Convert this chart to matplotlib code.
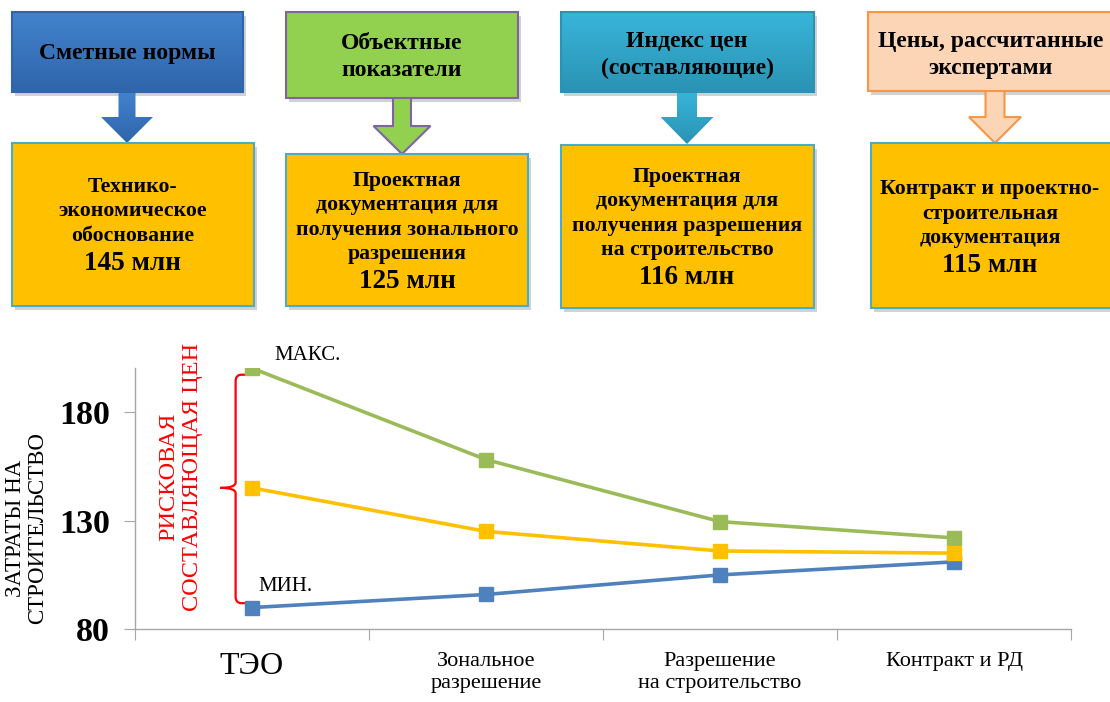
import numpy as np
import matplotlib
matplotlib.use('Agg')
from matplotlib import pyplot as plt
from matplotlib.patches import Rectangle, Polygon, PathPatch
from matplotlib.path import Path

plt.rcParams['font.family'] = ['Liberation Serif', 'DejaVu Serif']

# данные графика
stages = ['ТЭО', 'Зональное\nразрешение', 'Разрешение\nна строительство', 'Контракт и РД']
cost_max = [200, 158, 129.5, 122]
cost_exp = [145, 125, 116, 115]
cost_min = [90, 96, 105, 111]
y_ticks = [80, 130, 180]

# тексты блоков
top_titles = ['Сметные нормы', 'Объектные\nпоказатели', 'Индекс цен\n(составляющие)',
              'Цены, рассчитанные\nэкспертами']
doc_titles = ['Технико-\nэкономическое\nобоснование',
              'Проектная\nдокументация для\nполучения зонального\nразрешения',
              'Проектная\nдокументация для\nполучения разрешения\nна строительство',
              'Контракт и проектно-\nстроительная\nдокументация']
doc_costs = ['145 млн', '125 млн', '116 млн', '115 млн']

fig = plt.figure(figsize=(11.1, 7.02), dpi=100)
bg = fig.add_axes([0, 0, 1, 1])
bg.set_xlim(0, 1110)
bg.set_ylim(702, 0)
bg.axis('off')


def gradient_fill(ax, patch, c_top, c_bot):
    ax.add_patch(patch)
    x0, y0, x1, y1 = patch.get_extents().transformed(ax.transData.inverted()).extents
    c1 = np.array(matplotlib.colors.to_rgb(c_top))
    c2 = np.array(matplotlib.colors.to_rgb(c_bot))
    t = np.linspace(0, 1, 64)[:, None]
    img = (c1 * (1 - t) + c2 * t)[:, None, :]
    im = ax.imshow(img, extent=[min(x0, x1), max(x0, x1), max(y0, y1), min(y0, y1)],
                   aspect='auto', zorder=patch.get_zorder() - 0.1, interpolation='bilinear')
    im.set_clip_path(patch)


def shadow(ax, x0, y0, x1, y1):
    ax.add_patch(Rectangle((x0 + 3, y0 + 4), x1 - x0, y1 - y0, fc='#7f7f7f', ec='none',
                           alpha=0.35, zorder=1))


def arrow_poly(cx, y0, yh, yt, ws, wh):
    return [(cx - ws, y0), (cx + ws, y0), (cx + ws, yh), (cx + wh, yh), (cx, yt),
            (cx - wh, yh), (cx - ws, yh)]


# верхние блоки: (x0, y0, x1, y1), цвета
top_boxes = [(12, 12, 243, 92), (286, 12, 518, 98), (561, 12, 814, 92), (868, 12, 1118, 91)]
top_cols = [('#4283CE', '#2F65AA', '#2F65AA'), ('#92D050', '#92D050', '#8064A2'),
            ('#38B5D9', '#2A93B4', '#2A93B4'), ('#FBD5B5', '#FBD5B5', '#F79646')]
top_text = [(127, 53), (402, 57), (687, 55), (991, 55)]
arrows = [(127, 117, 143, 8.5, 26), (402, 126, 154, 9, 28.5),
          (687, 117, 144, 10, 26.5), (995, 117, 143, 9.5, 26)]

doc_boxes = [(12, 143, 254, 306), (286, 154, 528, 306), (561, 145, 814, 308), (871, 143, 1118, 308)]
doc_centers = [(133, 211.5), (407, 217.5), (687, 213.5), (990, 213.5)]

for i in range(4):
    x0, y0, x1, y1 = top_boxes[i]
    ct, cb, ce = top_cols[i]
    shadow(bg, x0, y0, x1, y1)
    cx, yh, yt, ws, wh = arrows[i]
    ap = Polygon(arrow_poly(cx, y1 - 1, yh, yt, ws, wh), closed=True,
                 fc='none' if ct != cb else ct, ec=ce, lw=1.5, zorder=3)
    if ct != cb:
        ap.set_edgecolor('none')
        gradient_fill(bg, ap, ct, cb)
    else:
        bg.add_patch(ap)
    rp = Rectangle((x0, y0), x1 - x0, y1 - y0, fc='none' if ct != cb else ct,
                   ec=ce, lw=1.5, zorder=4)
    if ct != cb:
        gradient_fill(bg, rp, ct, cb)
    else:
        bg.add_patch(rp)
    tx, ty = top_text[i]
    bg.text(tx, ty, top_titles[i], ha='center', va='center', fontsize=17,
            fontweight='bold', linespacing=1.4, zorder=6)

    # нижние жёлтые блоки
    x0, y0, x1, y1 = doc_boxes[i]
    shadow(bg, x0, y0, x1, y1)
    bg.add_patch(Rectangle((x0, y0), x1 - x0, y1 - y0, fc='#FFC000', ec='#4BACC6',
                           lw=1.5, zorder=4))
    tx, ty = doc_centers[i]
    n = doc_titles[i].count('\n') + 1
    bg.text(tx, ty, doc_titles[i], ha='center', va='center', fontsize=15.7,
            fontweight='bold', linespacing=1.3, zorder=6)
    bg.text(tx, ty + (n - 1) / 2 * 25 + 27, doc_costs[i], ha='center', va='center',
            fontsize=19.5, fontweight='bold', zorder=6)

# график
ax = fig.add_axes([135 / 1110, 72.7 / 702, 936 / 1110, 261.1 / 702])
ax.patch.set_alpha(0)
x = np.arange(len(stages))
ax.plot(x, cost_min, color='#4F81BD', lw=2.6, marker='s', ms=10.5, zorder=3)
ax.plot(x, cost_max, color='#9BBB59', lw=2.6, marker='s', ms=10.5, zorder=3)
ax.plot(x, cost_exp, color='#FFC000', lw=2.6, marker='s', ms=10.5, zorder=3)
ax.set_xlim(-0.5, len(stages) - 0.5)
ax.set_ylim(80, 200)

for s in ['top', 'right']:
    ax.spines[s].set_visible(False)
for s in ['left', 'bottom']:
    ax.spines[s].set_color('#A6A6A6')
    ax.spines[s].set_linewidth(1)

ax.set_yticks(y_ticks)
ax.set_yticklabels([str(v) for v in y_ticks], fontsize=24.5, fontweight='bold')
ax.tick_params(axis='y', length=8, color='#A6A6A6', pad=10)

ax.set_xticks(np.arange(-0.5, len(stages)))
ax.set_xticklabels([])
ax.tick_params(axis='x', which='major', length=8, color='#A6A6A6')
ax.set_xticks(x, minor=True)
ax.set_xticklabels(stages, minor=True, fontsize=16, linespacing=1.25)
ax.tick_params(axis='x', which='minor', length=0, pad=16)
lab0 = ax.get_xticklabels(minor=True)[0]
lab0.set_fontsize(23)

ax.set_ylabel('ЗАТРАТЫ НА\nСТРОИТЕЛЬСТВО', fontsize=16.5, linespacing=1.05)
ax.yaxis.set_label_coords(-87 / 936, 0.388)

ax.annotate('МАКС.', xy=(0, cost_max[0]), xytext=(22, 13), textcoords='offset pixels',
            fontsize=15, va='center', ha='left')
ax.annotate('МИН.', xy=(0, cost_min[0]), xytext=(6, 21), textcoords='offset pixels',
            fontsize=15, va='center', ha='left')

# фигурная скобка
xb = -0.07
top = cost_max[0] - 3
bot = cost_min[0] + 2
mid = cost_exp[0]
verts = [(0.005, top), (xb + 0.025, top), (xb, top), (xb, top - 3),
         (xb, mid + 2.5), (xb, mid), (xb - 0.065, mid),
         (xb, mid), (xb, mid - 2.5),
         (xb, bot + 3), (xb, bot), (xb + 0.025, bot), (-0.02, bot)]
codes = [Path.MOVETO, Path.LINETO, Path.CURVE3, Path.CURVE3,
         Path.LINETO, Path.CURVE3, Path.CURVE3,
         Path.CURVE3, Path.CURVE3,
         Path.LINETO, Path.CURVE3, Path.CURVE3, Path.LINETO]
ax.add_patch(PathPatch(Path(verts, codes), fc='none', ec='red', lw=1.6, clip_on=False, zorder=2))

ax.text(-0.305, 150.2, 'РИСКОВАЯ\nСОСТАВЛЯЮЩАЯ ЦЕН', rotation=90, color='red', fontsize=17.5,
        ha='center', va='center', linespacing=1.15, multialignment='center')

fig.savefig('out.png', dpi=100)
